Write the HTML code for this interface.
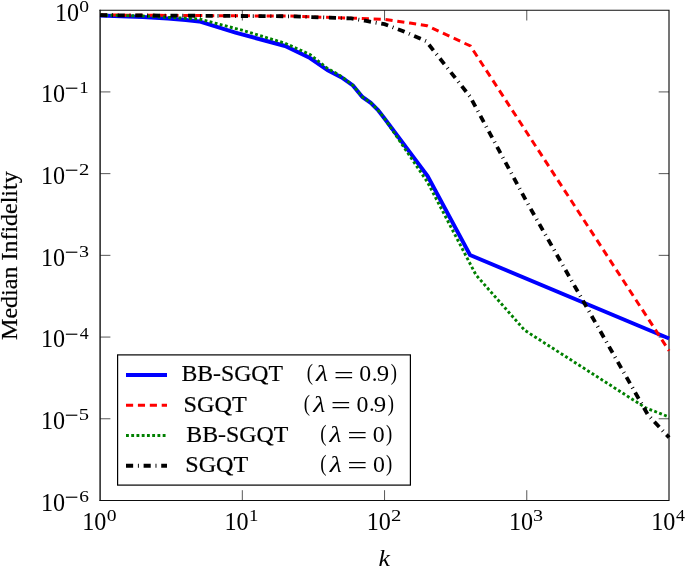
<!DOCTYPE html>
<html><head><meta charset="utf-8"><title>Median Infidelity</title>
<style>
html,body{margin:0;padding:0;background:#fff;}
svg{display:block;}
text{font-family:"Liberation Serif","DejaVu Serif",serif;fill:#000;}
.t{stroke:#000;stroke-width:0.2px;}
</style></head><body>
<svg width="685" height="566" viewBox="0 0 685 566">
<defs><filter id="soft" x="0" y="0" width="685" height="566" filterUnits="userSpaceOnUse"><feGaussianBlur stdDeviation="0.45"/></filter></defs>
<rect width="685" height="566" fill="#fff"/>
<g filter="url(#soft)">
<rect width="685" height="566" fill="#fff"/>
<g stroke="#444" stroke-width="0.9" fill="none">
<line x1="242.32" y1="10.2" x2="242.32" y2="20.5"/><line x1="242.32" y1="500.5" x2="242.32" y2="490.2"/><line x1="384.55" y1="10.2" x2="384.55" y2="20.5"/><line x1="384.55" y1="500.5" x2="384.55" y2="490.2"/><line x1="526.77" y1="10.2" x2="526.77" y2="20.5"/><line x1="526.77" y1="500.5" x2="526.77" y2="490.2"/><line x1="100.1" y1="91.92" x2="110.39999999999999" y2="91.92"/><line x1="669.0" y1="91.92" x2="658.7" y2="91.92"/><line x1="100.1" y1="173.63" x2="110.39999999999999" y2="173.63"/><line x1="669.0" y1="173.63" x2="658.7" y2="173.63"/><line x1="100.1" y1="255.35" x2="110.39999999999999" y2="255.35"/><line x1="669.0" y1="255.35" x2="658.7" y2="255.35"/><line x1="100.1" y1="337.07" x2="110.39999999999999" y2="337.07"/><line x1="669.0" y1="337.07" x2="658.7" y2="337.07"/><line x1="100.1" y1="418.78" x2="110.39999999999999" y2="418.78"/><line x1="669.0" y1="418.78" x2="658.7" y2="418.78"/>
</g>
<polyline points="100.1,10.2 669.0,10.2 669.0,500.5 100.1,500.5" fill="none" stroke="#111" stroke-width="1.15" stroke-linecap="square"/>
<line x1="100.1" y1="9.649999999999999" x2="100.1" y2="501.05" stroke="#111" stroke-width="1.4"/>
<g fill="none" stroke-linejoin="miter">
<polyline points="100.0,15.4 142.8,17.0 167.9,18.5 185.7,20.1 199.3,21.4 235.5,32.6 285.1,46.0 310.0,58.0 327.8,70.4 341.6,77.4 352.9,85.4 362.4,96.9 370.7,102.8 378.0,110.0 384.5,118.5 427.6,176.0 470.0,255.0 669.1,338.5" stroke="#0000ff" stroke-width="4.0"/>
<polyline points="100.0,15.0 290.0,16.1 384.6,19.3 410.0,23.1 427.1,25.8 470.4,46.0 669.1,350.8" stroke="#ff0000" stroke-width="3.0" stroke-dasharray="7.14 4.76"/>
<polyline points="100.0,15.0 142.8,16.0 199.3,19.0 242.0,30.2 285.0,43.2 310.0,54.5 326.5,67.7 341.6,76.5 352.9,85.4 362.4,96.9 370.7,102.8 378.0,110.0 384.5,118.5 427.4,182.0 476.0,275.0 524.6,330.2 645.6,407.8 669.1,417.0" stroke="#008000" stroke-width="2.9" stroke-dasharray="2.86 2.38"/>
<polyline points="100.0,15.2 290.0,16.3 351.3,18.4 365.0,20.7 384.6,24.2 402.0,30.7 426.2,41.2 470.0,96.5 526.8,202.0 648.0,415.0 669.1,437.5" stroke="#000" stroke-width="3.8" stroke-dasharray="7.14 4.76 0.95 4.76"/>
</g>
<text transform="translate(79.25,11.68) scale(0.9792,0.8595)" font-size="20">0</text><text transform="translate(54.88,20.51) scale(1.2071,1.2226)" font-size="20">10</text><text transform="translate(79.35,93.37) scale(0.9374,0.8634)" font-size="20">1</text><text transform="translate(64.87,96.37) scale(1.2357,1.2047)" font-size="20">−</text><text transform="translate(40.88,102.23) scale(1.2071,1.2226)" font-size="20">10</text><text transform="translate(79.09,175.08) scale(1.0352,0.8609)" font-size="20">2</text><text transform="translate(64.87,178.08) scale(1.2357,1.2047)" font-size="20">−</text><text transform="translate(40.88,183.94) scale(1.2071,1.2226)" font-size="20">10</text><text transform="translate(79.04,256.83) scale(1.0046,0.8633)" font-size="20">3</text><text transform="translate(64.87,259.80) scale(1.2357,1.2047)" font-size="20">−</text><text transform="translate(40.88,265.66) scale(1.2071,1.2226)" font-size="20">10</text><text transform="translate(79.65,338.52) scale(0.8928,0.8660)" font-size="20">4</text><text transform="translate(64.87,341.52) scale(1.2357,1.2047)" font-size="20">−</text><text transform="translate(40.88,347.38) scale(1.2071,1.2226)" font-size="20">10</text><text transform="translate(78.80,420.26) scale(1.0302,0.8728)" font-size="20">5</text><text transform="translate(64.87,423.23) scale(1.2357,1.2047)" font-size="20">−</text><text transform="translate(40.88,429.09) scale(1.2071,1.2226)" font-size="20">10</text><text transform="translate(79.17,501.98) scale(0.9713,0.8633)" font-size="20">6</text><text transform="translate(64.87,504.95) scale(1.2357,1.2047)" font-size="20">−</text><text transform="translate(40.88,510.81) scale(1.2071,1.2226)" font-size="20">10</text><text transform="translate(106.65,521.43) scale(0.9792,0.8595)" font-size="20">0</text><text transform="translate(82.28,530.26) scale(1.2071,1.2226)" font-size="20">10</text><text transform="translate(248.98,521.40) scale(0.9374,0.8634)" font-size="20">1</text><text transform="translate(224.50,530.26) scale(1.2071,1.2226)" font-size="20">10</text><text transform="translate(390.94,521.40) scale(1.0352,0.8609)" font-size="20">2</text><text transform="translate(366.73,530.26) scale(1.2071,1.2226)" font-size="20">10</text><text transform="translate(533.11,521.43) scale(1.0046,0.8633)" font-size="20">3</text><text transform="translate(508.95,530.26) scale(1.2071,1.2226)" font-size="20">10</text><text transform="translate(675.95,521.40) scale(0.8928,0.8660)" font-size="20">4</text><text transform="translate(651.18,530.26) scale(1.2071,1.2226)" font-size="20">10</text>
<text transform="translate(16.5,255.6) rotate(-90)" text-anchor="middle" class="t" font-size="23.8" textLength="168.6" lengthAdjust="spacingAndGlyphs">Median Infidelity</text>
<text transform="translate(378.46,565.70) scale(1.2916,1.1890)" font-size="20" font-style="italic">k</text>
<rect x="117.6" y="354.9" width="292.8" height="130.2" fill="#fff" stroke="#000" stroke-width="1.2"/>
<g fill="none">
<line x1="126" y1="375.0" x2="167" y2="375.0" stroke="#0000ff" stroke-width="4.0"/>
<line x1="126" y1="405.3" x2="167" y2="405.3" stroke="#ff0000" stroke-width="3.0" stroke-dasharray="7.14 4.76"/>
<line x1="126" y1="435.45" x2="167" y2="435.45" stroke="#008000" stroke-width="2.9" stroke-dasharray="2.86 2.38"/>
<line x1="126" y1="465.75" x2="167" y2="465.75" stroke="#000" stroke-width="3.8" stroke-dasharray="7.14 4.76 0.95 4.76"/>
</g>
<text transform="translate(181.42,381.30) scale(0.9986,1.0000)" font-size="23.8" class="t">BB-SGQT</text><text transform="translate(306.68,380.36) scale(0.9344,1.1359)" font-size="20">(</text><text transform="translate(316.08,381.40) scale(1.3985,1.1646)" font-size="20" font-style="italic">λ</text><text transform="translate(333.72,383.60) scale(1.7837,1.2800)" font-size="20">=</text><text transform="translate(359.29,381.47) scale(1.1915,1.1855)" font-size="20">0</text><text transform="translate(371.79,381.18) scale(1.1425,1.1425)" font-size="20">.</text><text transform="translate(376.70,381.47) scale(1.2419,1.1907)" font-size="20">9</text><text transform="translate(390.70,380.36) scale(0.9344,1.1359)" font-size="20">)</text><text transform="translate(183.58,411.50) scale(1.0189,1.0000)" font-size="23.8" class="t">SGQT</text><text transform="translate(303.78,410.56) scale(0.9344,1.1359)" font-size="20">(</text><text transform="translate(313.18,411.60) scale(1.3985,1.1646)" font-size="20" font-style="italic">λ</text><text transform="translate(330.82,413.80) scale(1.7837,1.2800)" font-size="20">=</text><text transform="translate(356.39,411.67) scale(1.1915,1.1855)" font-size="20">0</text><text transform="translate(368.89,411.38) scale(1.1425,1.1425)" font-size="20">.</text><text transform="translate(373.80,411.67) scale(1.2419,1.1907)" font-size="20">9</text><text transform="translate(387.80,410.56) scale(0.9344,1.1359)" font-size="20">)</text><text transform="translate(186.21,441.80) scale(1.0035,1.0000)" font-size="23.8" class="t">BB-SGQT</text><text transform="translate(320.18,440.86) scale(0.9344,1.1359)" font-size="20">(</text><text transform="translate(329.58,441.90) scale(1.3985,1.1646)" font-size="20" font-style="italic">λ</text><text transform="translate(347.22,444.10) scale(1.7837,1.2800)" font-size="20">=</text><text transform="translate(372.79,441.97) scale(1.1915,1.1855)" font-size="20">0</text><text transform="translate(386.00,440.86) scale(0.9344,1.1359)" font-size="20">)</text><text transform="translate(185.29,471.90) scale(1.0139,1.0000)" font-size="23.8" class="t">SGQT</text><text transform="translate(320.28,470.96) scale(0.9344,1.1359)" font-size="20">(</text><text transform="translate(329.68,472.00) scale(1.3985,1.1646)" font-size="20" font-style="italic">λ</text><text transform="translate(347.32,474.20) scale(1.7837,1.2800)" font-size="20">=</text><text transform="translate(372.89,472.07) scale(1.1915,1.1855)" font-size="20">0</text><text transform="translate(386.10,470.96) scale(0.9344,1.1359)" font-size="20">)</text>
</g>
</svg>
</body></html>
